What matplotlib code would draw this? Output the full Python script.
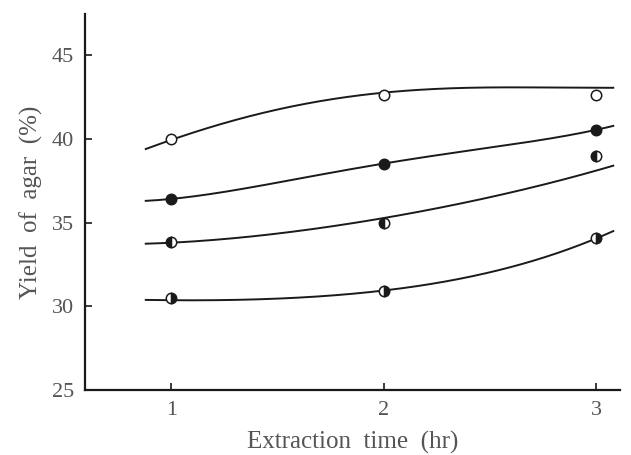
import matplotlib.pyplot as plt
import numpy as np

plt.rcParams['font.family'] = ['Liberation Serif', 'DejaVu Serif']

# measured points (x = extraction time in hr)
times = [1, 2, 3]
yield_open = [40.0, 42.6, 42.6]
yield_solid = [36.4, 38.5, 40.5]
yield_left = [33.85, 35.0, 39.0]
yield_right = [30.5, 30.9, 34.05]

# hand drawn smooth curves
curve_x = [0.88, 1.0, 1.5, 2.0, 2.5, 3.0, 3.08]
curve_open = [39.35, 40.0, 41.7, 42.8, 43.05, 43.05, 43.05]
curve_solid = [36.3, 36.4, 37.4, 38.5, 39.5, 40.5, 40.8]
curve_left = [33.7, 33.85, 34.3, 35.3, 36.5, 38.1, 38.4]
curve_right = [30.35, 30.4, 30.45, 30.9, 32.1, 33.9, 34.6]

fig = plt.figure(figsize=(6.31, 4.55), dpi=100)
ax = fig.add_axes([0.135, 0.143, 0.848, 0.826])

ink = '#1a1a1a'


def smooth(xs, ys):
    xs = np.asarray(xs)
    ys = np.asarray(ys)
    t = np.linspace(xs[0], xs[-1], 200)
    coef = np.polyfit(xs, ys, 4)
    return t, np.polyval(coef, t)


for cx, cy in [(curve_x, curve_open), (curve_x, curve_solid),
               (curve_x, curve_left), (curve_x, curve_right)]:
    t, v = smooth(cx, cy)
    ax.plot(t, v, color=ink, lw=1.4, zorder=2)

mk = dict(ls='none', marker='o', ms=7.5, mec=ink, mew=1.1, zorder=3)
ax.plot(times, yield_open, mfc='white', **mk)
ax.plot(times, yield_solid, mfc=ink, **mk)
ax.plot(times, yield_left, mfc=ink, fillstyle='left', markerfacecoloralt='white', **mk)
ax.plot(times, yield_right, mfc=ink, fillstyle='right', markerfacecoloralt='white', **mk)

ax.set_xlim(0.595, 3.113)
ax.set_ylim(25, 47.45)
ax.set_xticks([1, 2, 3])
ax.set_yticks([25, 30, 35, 40, 45])

for s in ['top', 'right']:
    ax.spines[s].set_visible(False)
for s in ['left', 'bottom']:
    ax.spines[s].set_linewidth(1.6)
    ax.spines[s].set_color(ink)

ax.tick_params(direction='in', length=5, width=1.2, colors=ink,
               labelsize=16, labelcolor='#555555', pad=8)
ax.set_xlabel('Extraction  time  (hr)', fontsize=18, color='#555555', labelpad=8)
ax.set_ylabel('Yield  of  agar  (%)', fontsize=18, color='#555555', labelpad=6)

fig.savefig('out.png', dpi=100)
